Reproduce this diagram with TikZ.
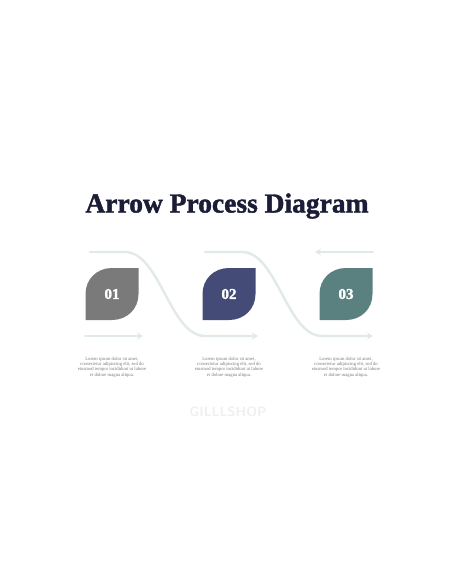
\documentclass[tikz,border=0pt]{standalone}
\usepackage{fontspec}
\usetikzlibrary{arrows.meta}

\newfontfamily\headfont{Liberation Serif}[FakeBold=1.6]
\newfontfamily\bodyfont{Liberation Serif}

\definecolor{titlenavy}{HTML}{1B1C36}
\definecolor{trackgray}{HTML}{E2E9E9}
\definecolor{leafgray}{HTML}{7A7A7A}
\definecolor{leafnavy}{HTML}{434B76}
\definecolor{leafteal}{HTML}{5B8080}
\definecolor{textgray}{HTML}{7C7C7C}

\tikzset{
  track/.style={line width=2.4pt,trackgray,line cap=round},
  trackarrow/.style={track,-{Stealth[length=6pt,width=7pt]}},
  stepnum/.style={text=white,font=\fontsize{15}{15}\selectfont\headfont\bfseries},
  stepinfo/.style={text=textgray,align=center,font=\fontsize{4.7}{5.3}\selectfont\bodyfont}
}

\begin{document}
\begin{tikzpicture}[x=1pt,y=-1pt]

% white page
\fill[white] (0,0) rectangle (456,586);
\useasboundingbox (0,0) rectangle (456,586);

% the title
\node[text=titlenavy,font=\fontsize{27.5}{27.5}\selectfont\headfont\bfseries] (title) at (227,206) {Arrow Process Diagram};

% points of the tracks
\coordinate (t1) at (90,252);
\coordinate (t2) at (205,252);
\coordinate (t3) at (373,252);
\coordinate (b1) at (85,336);
\coordinate (b2) at (258,336);
\coordinate (b3) at (373,336);

% the tracks behind the leaves
\draw[trackarrow] (t1) -- (125,252) .. controls (160,252) and (170,336) .. (205,336) -- (b2);
\draw[trackarrow] (t2) -- (242,252) .. controls (277,252) and (287,336) .. (322,336) -- (b3);
\draw[trackarrow] (b1) -- (143,336);
\draw[trackarrow] (t3) -- (315,252);

% the three leaves
\foreach \cx/\col/\num in {112/leafgray/01, 229/leafnavy/02, 346/leafteal/03}{
  \fill[\col] (\cx-26.5,320) -- (\cx-26.5,294)
     .. controls (\cx-26.5,279) and (\cx-15,268) .. (\cx,268)
     -- (\cx+26.5,268) -- (\cx+26.5,294)
     .. controls (\cx+26.5,309) and (\cx+15,320) .. (\cx,320) -- cycle;
  \node[stepnum] (n\num) at (\cx,294) {\num};
  % text under the leaf
  \node[stepinfo] (info\num) at (\cx,367) {Lorem ipsum dolor sit amet,\\ consectetur adipiscing elit, sed do\\ eiusmod tempor incididunt ut labore\\ et dolore magna aliqua.};
}

% watermark
\node[text=black!6,font=\fontsize{13.5}{13.5}\selectfont\sffamily\bfseries] (mark) at (228,412) {GILLLSHOP};

\end{tikzpicture}
\end{document}
